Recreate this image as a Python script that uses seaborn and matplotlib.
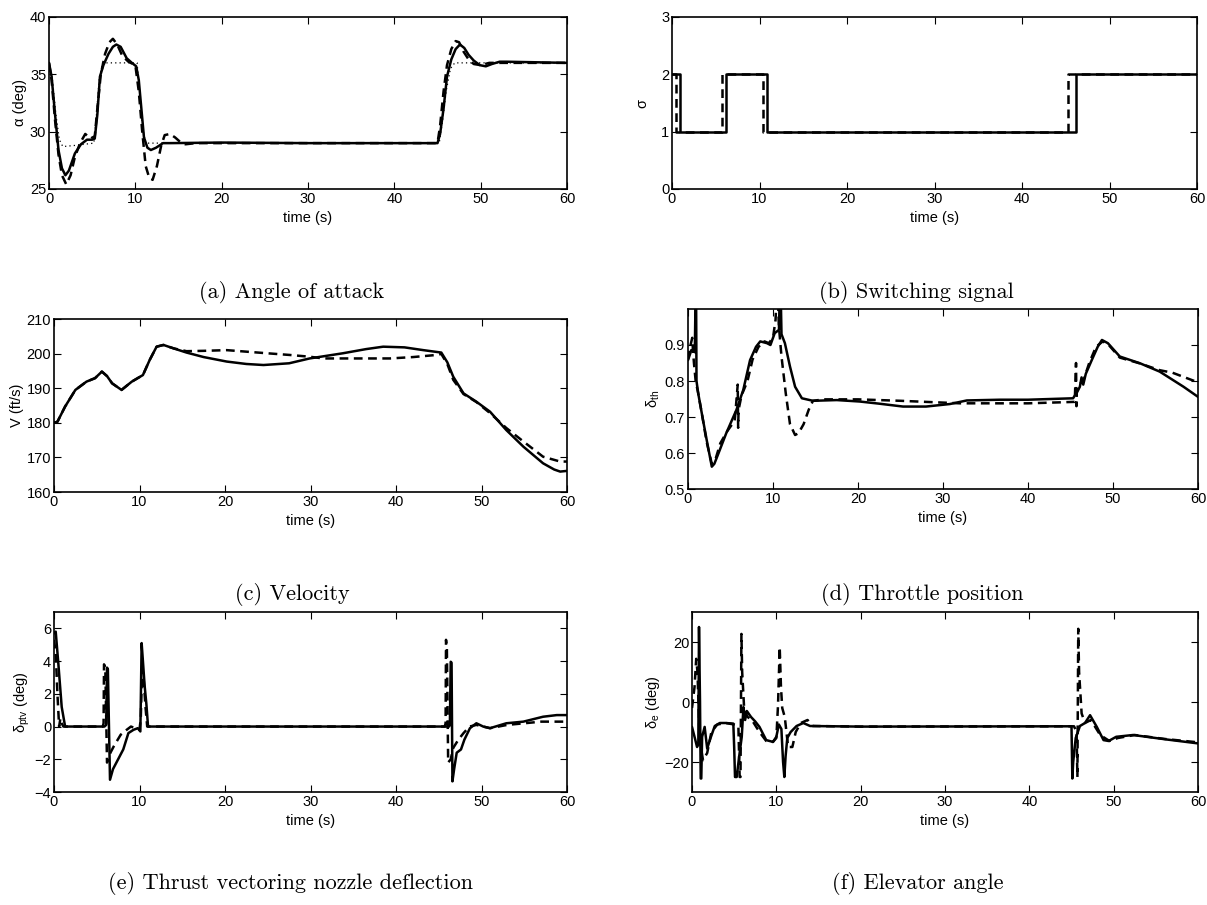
import matplotlib
matplotlib.use("Agg")
import matplotlib.pyplot as plt
import pandas as pd
import seaborn as sns

# ---- (a) angle of attack ----
t_alpha_solid = [0, 0.3, 0.7, 1.1, 1.5, 1.9, 2.3, 3.0, 3.7, 4.4, 5.0, 5.3, 5.6, 5.9,
                 6.3, 6.9, 7.4, 7.8, 8.3, 9.0, 9.6, 10.1, 10.4, 10.7, 11.0, 11.4,
                 11.8, 12.4, 13.2, 14, 20, 30, 45.0, 45.3, 45.7, 46.1, 46.6, 47.1,
                 47.6, 48.1, 48.6, 49.2, 49.9, 50.6, 51.3, 52.2, 53, 60]
alpha_solid = [36.0, 34.8, 31.5, 28.4, 26.8, 26.2, 26.6, 28.1, 28.9, 29.3, 29.3, 29.4,
               31.5, 34.8, 35.8, 36.8, 37.4, 37.6, 37.4, 36.4, 36.0, 35.7, 34.5, 32.0,
               29.5, 28.6, 28.4, 28.6, 29.0, 29.0, 29.05, 29.0, 29.0, 29.8, 32.0, 34.8,
               36.3, 37.2, 37.6, 37.3, 36.7, 36.2, 35.8, 35.7, 35.9, 36.1, 36.1, 36.0]
t_alpha_dash = [0, 0.3, 0.7, 1.1, 1.5, 2.0, 2.5, 3.0, 3.6, 4.2, 4.8, 5.3, 5.6, 6.0,
                6.5, 7.0, 7.4, 7.9, 8.5, 9.2, 10.0, 10.4, 10.8, 11.2, 11.6, 12.0,
                12.5, 13.0, 13.4, 14.0, 14.6, 15.2, 15.8, 17, 30, 45.0, 45.3, 45.7,
                46.1, 46.6, 47.1, 47.5, 48.0, 48.6, 49.2, 50, 51, 53, 60]
alpha_dash = [36.0, 34.5, 31.0, 28.0, 26.2, 25.4, 26.2, 27.8, 29.0, 29.8, 29.4, 29.6,
              32.0, 35.0, 36.8, 37.8, 38.1, 37.6, 36.6, 36.1, 35.8, 33.5, 30.0, 27.0,
              26.0, 25.8, 27.0, 28.8, 29.7, 29.8, 29.5, 29.1, 28.9, 29.0, 29.0, 29.0,
              30.5, 33.5, 35.8, 37.2, 37.9, 37.8, 37.0, 36.3, 35.9, 35.8, 36.0, 36.0,
              36.0]
t_alpha_ref = [0, 0.4, 0.8, 1.2, 1.6, 3.0, 5.2, 5.5, 5.8, 6.2, 10.2, 10.5, 10.8, 11.2,
               45.2, 45.6, 46.0, 46.5, 47.0, 60]
alpha_ref = [36.0, 34.5, 31.5, 29.3, 28.7, 28.8, 29.0, 31.5, 34.5, 36.0, 36.0, 33.5,
             30.5, 29.0, 29.0, 31.0, 33.5, 35.5, 36.0, 36.0]

# ---- (b) switching signal ----
t_sigma_solid = [0, 0.9, 0.9, 6.15, 6.15, 10.9, 10.9, 46.2, 46.2, 60]
sigma_solid = [2, 2, 1, 1, 2, 2, 1, 1, 2, 2]
t_sigma_dash = [0, 0.5, 0.5, 5.7, 5.7, 10.45, 10.45, 45.3, 45.3, 60]
sigma_dash = [2, 2, 1, 1, 2, 2, 1, 1, 2, 2]

# ---- (c) velocity ----
t_vel_solid = [0, 0.4, 1.3, 2.5, 3.8, 4.8, 5.6, 6.2, 6.8, 7.9, 9.1, 10.4, 11.2, 12.0,
               12.8, 14.0, 15.5, 17.5, 20.2, 22.5, 24.5, 27.5, 29.9, 33.8, 36.5, 38.5,
               41, 43.2, 45.3, 46.0, 46.7, 47.9, 49.4, 51.0, 52.9, 54.9, 57.2, 58.5,
               59.2, 60]
vel_solid = [180.0, 180.3, 184.7, 189.5, 191.9, 192.9, 194.8, 193.5, 191.4, 189.5,
             191.9, 193.8, 198.2, 202.0, 202.5, 201.5, 200.3, 199.0, 197.7, 197.0,
             196.7, 197.2, 198.6, 200.1, 201.3, 202.0, 201.8, 201.0, 200.3, 197.5,
             193.3, 188.5, 186.1, 183.2, 177.9, 173.1, 168.3, 166.5, 165.9, 166.1]
t_vel_dash = [0, 0.4, 1.3, 2.5, 3.8, 4.8, 5.6, 6.2, 6.8, 7.9, 9.1, 10.4, 11.2, 12.0,
              12.8, 14.0, 15.5, 17.5, 20.2, 24.9, 27.6, 29.9, 31.5, 35, 39.3, 42,
              44.7, 45.3, 46.0, 46.7, 47.9, 49.4, 51.0, 52.9, 54.9, 57.2, 59.2, 60]
vel_dash = [180.0, 180.3, 184.7, 189.5, 191.9, 192.9, 194.8, 193.5, 191.4, 189.5,
            191.9, 193.8, 198.2, 202.0, 202.5, 201.5, 200.7, 200.8, 201.0, 200.1,
            199.6, 199.1, 198.6, 198.6, 198.6, 199.0, 199.6, 199.9, 197.0, 192.4,
            188.3, 186.0, 182.8, 178.5, 174.6, 170.2, 168.8, 168.8]

# ---- (d) throttle position ----
t_th_solid = [0, 0.4, 0.8, 0.9, 0.95, 1.0, 1.2, 1.7, 2.2, 2.8, 3.1, 3.6, 4.5, 5.7,
              6.5, 7.3, 8.0, 8.5, 9.3, 9.7, 10.2, 10.7, 10.8, 10.9, 11.0, 11.4, 12.0,
              12.6, 13.4, 14.7, 17.5, 20.2, 22.5, 25.3, 28, 30.8, 32.8, 36.7, 40,
              45.3, 45.8, 46.1, 46.3, 46.5, 46.8, 47.5, 48.2, 48.7, 49.4, 50.8, 53.2,
              55.5, 58.3, 60]
th_solid = [0.858, 0.886, 0.88, 1.05, 1.05, 0.80, 0.766, 0.70, 0.636, 0.562, 0.57,
            0.60, 0.655, 0.72, 0.775, 0.858, 0.895, 0.91, 0.905, 0.90, 0.933, 0.942,
            1.05, 1.05, 0.93, 0.905, 0.84, 0.784, 0.752, 0.745, 0.747, 0.743, 0.737,
            0.729, 0.729, 0.736, 0.746, 0.748, 0.748, 0.752, 0.77, 0.784, 0.81, 0.79,
            0.82, 0.858, 0.895, 0.914, 0.905, 0.868, 0.849, 0.826, 0.784, 0.756]
t_th_dash = [0, 0.3, 0.5, 0.6, 0.7, 0.9, 1.2, 1.7, 2.2, 2.8, 3.2, 3.8, 4.6, 5.5,
             5.85, 5.9, 5.95, 6.3, 7.0, 7.6, 8.3, 9.0, 9.5, 10.0, 10.3, 10.45, 10.55,
             10.7, 11.0, 11.5, 12.0, 12.6, 13.0, 13.6, 14.2, 14.7, 16, 20, 25, 32, 40,
             45.5, 45.65, 45.7, 45.75, 46.0, 46.5, 47.2, 48.0, 48.8, 49.5, 50.8, 53,
             55.5, 57.0, 59.8, 60]
th_dash = [0.86, 0.9, 0.92, 0.88, 0.85, 0.80, 0.766, 0.70, 0.63, 0.57, 0.58, 0.627,
           0.66, 0.69, 0.79, 0.67, 0.72, 0.76, 0.80, 0.86, 0.895, 0.91, 0.905, 0.92,
           0.97, 1.05, 1.05, 0.95, 0.868, 0.766, 0.68, 0.65, 0.655, 0.68, 0.72, 0.745,
           0.749, 0.749, 0.745, 0.738, 0.738, 0.742, 0.85, 0.73, 0.78, 0.79, 0.80,
           0.85, 0.895, 0.91, 0.90, 0.865, 0.85, 0.83, 0.823, 0.798, 0.797]

# ---- (e) thrust vectoring nozzle deflection ----
t_ptv_solid = [0, 0.2, 0.5, 0.9, 1.3, 5.9, 6.1, 6.2, 6.3, 6.55, 6.9, 7.3, 8.1, 8.7,
               9.3, 9.8, 10.1, 10.25, 10.4, 10.6, 10.8, 11.0, 46.2, 46.3, 46.4, 46.5,
               46.6, 46.8, 47.1, 47.6, 48.0, 48.65, 49.4, 50.2, 51.0, 52.9, 54.9,
               57.2, 58.8, 60]
ptv_solid = [5.7, 5.8, 3.9, 1.2, 0.0, 0.0, 0.1, 3.6, 3.5, -3.25, -2.6, -2.2, -1.4,
             -0.4, -0.2, -0.1, -0.3, 5.1, 4.0, 2.5, 1.4, 0.0, 0.0, 0.1, 3.96, 3.9,
             -3.35, -2.6, -1.6, -1.4, -0.8, -0.1, 0.2, 0.0, -0.1, 0.2, 0.3, 0.6, 0.7,
             0.7]
t_ptv_dash = [0, 0.2, 0.4, 0.6, 0.75, 0.9, 1.1, 5.7, 5.8, 5.85, 6.0, 6.2, 6.6, 7.0,
              7.8, 8.5, 9.0, 9.5, 10.0, 10.15, 10.3, 10.5, 10.7, 10.9, 45.7, 45.8,
              45.85, 45.95, 46.1, 46.4, 46.7, 47.3, 47.9, 48.6, 49.4, 51, 53, 55, 57,
              60]
ptv_dash = [5.3, 4.5, 2.0, 0.0, 0.5, 0.2, 0.0, 0.0, 0.2, 3.8, 3.6, -2.2, -1.6, -1.2,
            -0.5, -0.2, 0.0, -0.1, -0.2, 0.5, 3.5, 2.8, 1.2, 0.0, 0.0, 0.2, 5.3, 4.8,
            -2.2, -2.0, -1.3, -0.8, -0.4, 0.0, 0.1, -0.1, 0.1, 0.2, 0.3, 0.3]

# ---- (f) elevator angle ----
t_elev_solid = [0, 0.3, 0.6, 0.75, 0.83, 0.95, 1.03, 1.1, 1.2, 1.5, 1.8, 2.2, 2.7,
                3.3, 4.0, 4.9, 5.0, 5.1, 5.3, 5.6, 5.9, 6.1, 6.3, 6.5, 7.0, 7.5, 8.0,
                8.8, 9.6, 10.0, 10.3, 10.6, 10.8, 10.95, 11.1, 11.3, 11.7, 12.4, 13.2,
                14.0, 20, 45.0, 45.1, 45.2, 45.5, 46.0, 46.6, 47.2, 48.0, 48.8, 49.4,
                50.3, 52.3, 56.3, 60]
elev_solid = [-8.3, -11.6, -15.0, -14, 25.0, 0, -25.5, -25.5, -11.6, -8.3, -15.5, -12,
              -8.0, -7.0, -7.0, -7.2, -15, -25, -25, -18, -11.6, -1.7, -6, -3, -5,
              -6.5, -8.3, -12.7, -13.3, -11.6, -7.5, -9, -20, -25, -18, -12, -10, -8,
              -7, -8, -8.2, -8.1, -25.5, -20, -12, -8, -7, -4.4, -8.3, -12.7, -13,
              -11.6, -11, -12.5, -13.8]
t_elev_dash = [0, 0.3, 0.5, 0.65, 0.9, 1.3, 1.8, 2.3, 3.0, 4.0, 5.0, 5.5, 5.65, 5.75,
               5.86, 5.95, 6.2, 6.6, 7.1, 8.0, 8.8, 9.6, 10.0, 10.2, 10.4, 10.55, 10.7,
               11.0, 11.4, 11.9, 12.3, 12.9, 13.7, 14.3, 20, 45.3, 45.6, 45.7, 45.8,
               45.9, 46.2, 46.6, 47.3, 48.4, 49.5, 50.5, 52.5, 56, 59.5, 60]
elev_dash = [-2, 5, 14.4, 10, -12, -19.4, -17, -10, -7.5, -7.0, -7.5, -8, -25, -25,
             22.7, 10, -3, -5, -6, -10, -13, -13.3, -12, -1, 18.3, 5, -2, -5, -15,
             -15, -10, -7, -6, -8, -8.2, -8.1, -10, -25, 24.4, 10, -3.8, -7, -6, -11,
             -13, -12, -11, -12.3, -13.3, -13.5]

time_ticks = [0, 10, 20, 30, 40, 50, 60]

sns.set_theme(style="ticks")
plt.rcParams["font.family"] = ["Liberation Sans", "DejaVu Sans"]
plt.rcParams["text.color"] = "black"
plt.rcParams["axes.labelcolor"] = "black"
plt.rcParams["xtick.direction"] = "in"
plt.rcParams["ytick.direction"] = "in"
plt.rcParams["axes.linewidth"] = 1.2

W, H = 1207, 905
fig = plt.figure(figsize=(W / 100, H / 100), dpi=100)


def px_axes(left, top, right, bottom):
    return fig.add_axes([left / W, 1 - bottom / H, (right - left) / W, (bottom - top) / H])


def draw(ax, t, y, **kws):
    df = pd.DataFrame({"t": t, "y": y})
    sns.lineplot(data=df, x="t", y="y", ax=ax, estimator=None, sort=False,
                 color="black", **kws)


def style(ax, ylim, yticks, ylabel, labelpad=2):
    ax.set_xlim(0, 60)
    ax.set_ylim(*ylim)
    ax.set_xticks(time_ticks)
    ax.set_yticks(yticks)
    ax.set_xlabel("time (s)", fontsize=10.5, labelpad=4)
    ax.set_ylabel(ylabel, fontsize=10.5, labelpad=labelpad)
    ax.tick_params(axis="both", which="both", top=True, right=True, length=5,
                   width=0.8, labelsize=10.5, pad=2, colors="black")
    for sp in ax.spines.values():
        sp.set_visible(True)
        sp.set_color("black")


SOLID = dict(linewidth=1.8)
DASH = dict(linewidth=1.8, linestyle=(0, (3.5, 2.2)))

ax_a = px_axes(49, 17, 567, 189)
draw(ax_a, t_alpha_ref, alpha_ref, linewidth=0.9, linestyle=(0, (1, 2.5)))
draw(ax_a, t_alpha_dash, alpha_dash, **DASH)
draw(ax_a, t_alpha_solid, alpha_solid, **SOLID)
style(ax_a, (25, 40), [25, 30, 35, 40], "α (deg)")

ax_b = px_axes(672, 17, 1197, 189)
draw(ax_b, t_sigma_dash, sigma_dash, **DASH)
draw(ax_b, t_sigma_solid, sigma_solid, **SOLID)
style(ax_b, (0, 3), [0, 1, 2, 3], "σ", labelpad=8)

ax_c = px_axes(54, 319, 567, 492)
draw(ax_c, t_vel_dash, vel_dash, **DASH)
draw(ax_c, t_vel_solid, vel_solid, **SOLID)
style(ax_c, (160, 210), [160, 170, 180, 190, 200, 210], "V (ft/s)")

ax_d = px_axes(688, 309, 1198, 489)
draw(ax_d, t_th_dash, th_dash, **DASH)
draw(ax_d, t_th_solid, th_solid, **SOLID)
style(ax_d, (0.5, 1.0), [0.5, 0.6, 0.7, 0.8, 0.9], r"$\mathregular{\delta_{th}}$")

ax_e = px_axes(54, 612, 567, 792)
draw(ax_e, t_ptv_dash, ptv_dash, **DASH)
draw(ax_e, t_ptv_solid, ptv_solid, **SOLID)
style(ax_e, (-4, 7), [-4, -2, 0, 2, 4, 6], r"$\mathregular{\delta_{ptv}}$ (deg)")

ax_f = px_axes(692, 612, 1198, 792)
draw(ax_f, t_elev_dash, elev_dash, **DASH)
draw(ax_f, t_elev_solid, elev_solid, **SOLID)
style(ax_f, (-30, 30), [-20, 0, 20], r"$\mathregular{\delta_e}$ (deg)")

captions = [
    (292, 293, "(a) Angle of attack"),
    (916, 293, "(b) Switching signal"),
    (292, 595, "(c) Velocity"),
    (922, 595, "(d) Throttle position"),
    (290, 883, "(e) Thrust vectoring nozzle deflection"),
    (918, 883, "(f) Elevator angle"),
]
for x, y, txt in captions:
    fig.text(x / W, 1 - y / H, txt, ha="center", va="center", fontsize=16,
             fontfamily="cmr10", color="black")

fig.savefig("out.png", dpi=100)
